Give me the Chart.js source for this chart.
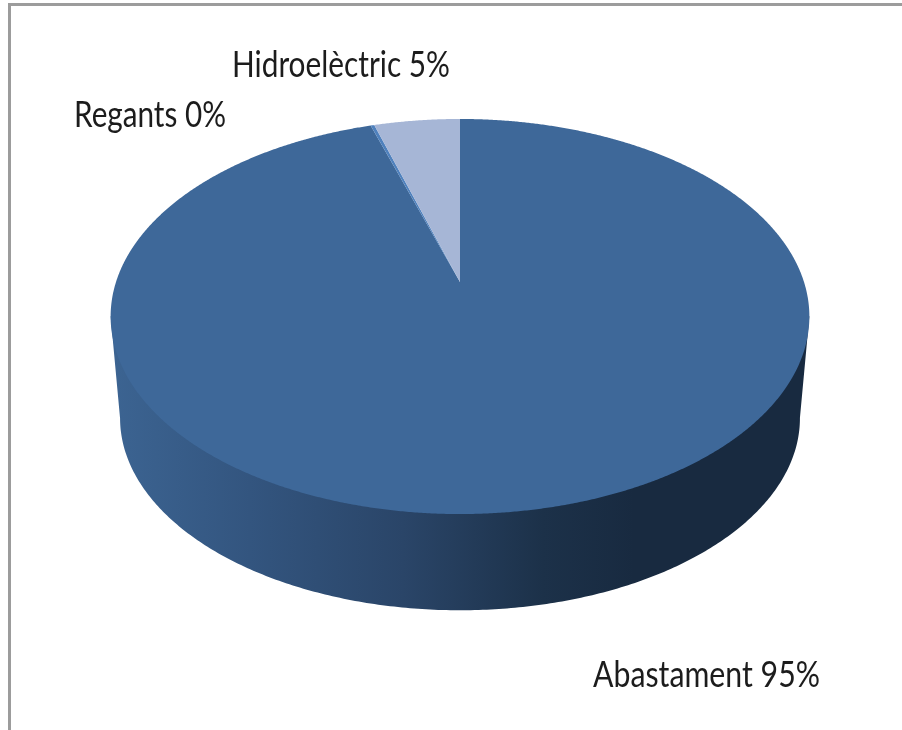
<!DOCTYPE html>
<html>
<head>
<meta charset="utf-8">
<title>Usos de l'aigua</title>
<script src="https://cdn.jsdelivr.net/npm/chart.js@4/dist/chart.umd.min.js"></script>
<style>
    html, body { margin: 0; padding: 0; background: #fff; }
    #frame { position: absolute; left: 8px; top: 3px; right: 0; bottom: 0; border-top: 3px solid #9c9c9c; border-left: 3px solid #9c9c9c; }
    #grafic { position: absolute; left: 0; top: 0; filter: blur(0.7px); }
</style>
</head>
<body>
<div id="frame"></div>
<canvas id="grafic" width="902" height="730"></canvas>
<script>
const categories = ['Abastament', 'Regants', 'Hidroelèctric'];
const values = [95.1, 0.2, 4.7];
const sliceColors = ['#3e6899', '#4f81bd', '#a6b6d6'];

// perspective of the disc: apex, widths, foreshortening
const disc = { x: 460, y: 282, a: 344, b: 191.5, c: 0.1747 };
const wallDrop = 102.5;
const wallScale = 0.973;

// where each label starts (left, baseline, width)
const labelBoxes = {
    'Abastament': [593, 687, 227],
    'Regants': [74, 127, 152],
    'Hidroelèctric': [232, 77, 218]
};

function project(angle, bottom) {
    const u = Math.cos(angle), v = Math.sin(angle);
    const w = 1 - disc.c * v;
    const s = bottom ? wallScale : 1;
    return {
        x: disc.x + s * disc.a * u / w,
        y: disc.y + s * disc.b * v / w + (bottom ? wallDrop : 0)
    };
}

function widest(bottom, side) {
    let best = 0, bestX = -Infinity;
    for (let i = 0; i < 720; i++) {
        const a = i / 720 * Math.PI * 2;
        const x = side * project(a, bottom).x;
        if (x > bestX) { bestX = x; best = a; }
    }
    return best;
}

const disc3d = {
    id: 'disc3d',
    beforeDatasetDraw(chart) {
        const ctx = chart.ctx;
        const arcs = chart.getDatasetMeta(0).data;

        // paret lateral
        const grad = ctx.createLinearGradient(110, 0, 809, 0);
        grad.addColorStop(0, '#3c6492');
        grad.addColorStop(0.2, '#33557f');
        grad.addColorStop(0.42, '#2a4568');
        grad.addColorStop(0.62, '#1c3149');
        grad.addColorStop(0.75, '#182a40');
        grad.addColorStop(1, '#182a40');

        const right = widest(true, 1), left = widest(true, -1);
        const rightTop = project(widest(false, 1), false);
        const leftTop = project(widest(false, -1), false);
        const end = left < right ? left + Math.PI * 2 : left;
        ctx.save();
        ctx.beginPath();
        ctx.moveTo(rightTop.x, rightTop.y);
        for (let a = right; a <= end; a += 0.01) {
            const p = project(a, true);
            ctx.lineTo(p.x, p.y);
        }
        ctx.lineTo(leftTop.x, leftTop.y);
        ctx.closePath();
        ctx.fillStyle = grad;
        ctx.fill();

        // top of the disc, one path per slice from the chart's own angles
        arcs.forEach((arc) => {
            const color = arc.options.backgroundColor;
            ctx.beginPath();
            ctx.moveTo(disc.x, disc.y);
            for (let a = arc.startAngle; a < arc.endAngle; a += 0.005) {
                const p = project(a, false);
                ctx.lineTo(p.x, p.y);
            }
            const last = project(arc.endAngle, false);
            ctx.lineTo(last.x, last.y);
            ctx.closePath();
            ctx.fillStyle = color;
            ctx.fill();
        });
        ctx.restore();
        return false;
    },
    afterDatasetsDraw(chart) {
        const ctx = chart.ctx;
        const total = values.reduce((s, v) => s + v, 0);
        ctx.save();
        ctx.font = '36px Lato';
        ctx.fillStyle = '#1c1c1c';
        ctx.textBaseline = 'alphabetic';
        categories.forEach((name, i) => {
            const box = labelBoxes[name];
            const text = name + ' ' + Math.round(values[i] / total * 100) + '%';
            ctx.fillText(text, box[0], box[1], box[2]);
        });
        ctx.restore();
    }
};

new Chart(document.getElementById('grafic'), {
    type: 'pie',
    data: {
        labels: categories,
        datasets: [{ data: values, backgroundColor: sliceColors, borderWidth: 0 }]
    },
    options: {
        responsive: false,
        animation: false,
        plugins: { legend: { display: false }, tooltip: { enabled: false } }
    },
    plugins: [disc3d]
});
</script>
</body>
</html>
